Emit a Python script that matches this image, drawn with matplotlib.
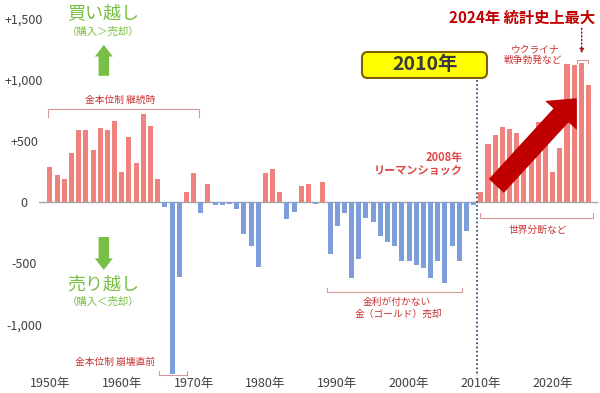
import matplotlib
matplotlib.use('Agg')
from matplotlib import pyplot as plt
from matplotlib.patches import FancyBboxPatch

plt.rcParams['font.family'] = ['Noto Sans CJK JP', 'DejaVu Sans']

# 各国中央銀行の金 純購入量（トン）1950年〜2025年
years = list(range(1950, 2026))
net_tonnes = [
    284, 221, 186, 399, 584, 584, 426, 601, 584, 664,        # 1950-1959
    248, 527, 317, 719, 623, 186, -44, -1402, -615, 80,      # 1960-1969
    235, -93, 145, -27, -27, -19, -55, -260, -360, -530,     # 1970-1979
    235, 268, 80, -139, -85, 134, 145, -19, 166, -425,       # 1980-1989
    -195, -93, -617, -467, -134, -167, -276, -325, -358, -481,  # 1990-1999
    -481, -516, -535, -617, -481, -658, -358, -484, -235, -25,  # 2000-2009
    80, 473, 549, 609, 598, 563, 395, 379, 655, 605,         # 2010-2019
    248, 443, 1123, 1115, 1137, 953,                         # 2020-2025
]
ytick_vals = [1500, 1000, 500, 0, -500, -1000]
ytick_labels = ['+1,500', '+1,000', '+500', '0', '-500', '-1,000']
xtick_years = list(range(1950, 2021, 10))

pos_color = '#f0827e'
neg_color = '#7e9ddb'
red_txt = '#c83232'
bracket_color = '#d49a9a'
green = '#78bf45'

fig = plt.figure(figsize=(6, 3.93), dpi=100)
ax = fig.add_axes([0.065, 0.0433, 0.9317, 0.9313])

colors = [pos_color if v > 0 else neg_color for v in net_tonnes]
ax.bar(years, net_tonnes, width=0.7, color=colors, zorder=2)
ax.axhline(0, color='#a6a6a6', lw=1, zorder=1)

ax.set_xlim(1948.47, 2026.32)
ax.set_ylim(-1420, 1567)
for s in ax.spines.values():
    s.set_visible(False)

ax.set_yticks(ytick_vals, ytick_labels)
ax.set_xticks(xtick_years, ['%d年' % y for y in xtick_years])
ax.tick_params(axis='y', length=0, pad=10.8, labelsize=9, labelcolor='#404040')
for lab in ax.get_yticklabels():
    lab.set_horizontalalignment('center')
ax.tick_params(axis='x', length=0, pad=1, labelsize=9, labelcolor='#404040')


def bracket(x0, x1, y, tick_y):
    ax.plot([x0, x0, x1, x1], [tick_y, y, y, tick_y], color=bracket_color,
            lw=0.8, clip_on=False, zorder=3)


# 買い越し / 売り越し
ax.text(1957.35, 1545, '買い越し', ha='center', va='center', fontsize=13, color=green)
ax.text(1957.35, 1390, '（購入＞売却）', ha='center', va='center', fontsize=7.5, color=green)
ax.text(1957.35, -672, '売り越し', ha='center', va='center', fontsize=13, color=green)
ax.text(1957.35, -814, '（購入＜売却）', ha='center', va='center', fontsize=7.5, color=green)
green_arrow = dict(arrowstyle='simple,head_width=1.7,head_length=1.1,tail_width=1.0',
                   mutation_scale=7.6, fc=green, ec='none', shrinkA=0, shrinkB=0)
ax.annotate('', xy=(1957.5, 1282), xytext=(1957.5, 1030), arrowprops=green_arrow)
ax.annotate('', xy=(1957.5, -555), xytext=(1957.5, -286), arrowprops=green_arrow)

# 括弧と注記
bracket(1949.7, 1970.75, 759, 694)
ax.text(1959.75, 833, '金本位制 継続時', ha='center', va='center', fontsize=7, color=red_txt)
bracket(1965.2, 1969.1, -1412, -1380)
ax.text(1959.05, -1306, '金本位制 崩壊直前', ha='center', va='center', fontsize=7, color=red_txt)
bracket(1988.6, 2007.4, -735, -702)
ax.text(1998.3, -819, '金利が付かない', ha='center', va='center', fontsize=7, color=red_txt)
ax.text(1998.5, -914, '金（ゴールド）売却', ha='center', va='center', fontsize=7, color=red_txt)
bracket(2009.9, 2025.6, -131, -90)
ax.text(2017.9, -229, '世界分断など', ha='center', va='center', fontsize=7, color=red_txt)
bracket(2023.35, 2024.97, 1159, 1135)
ax.text(2017.5, 1247, 'ウクライナ', ha='center', va='center', fontsize=7, color=red_txt)
ax.text(2017.3, 1159, '戦争勃発など', ha='center', va='center', fontsize=7, color=red_txt)

ax.text(2015.7, 1500, '2024年 統計史上最大', ha='center', va='center', fontsize=11,
        fontweight='bold', color='#c00000')
ax.annotate('', xy=(2024.05, 1214), xytext=(2024.05, 1418),
            arrowprops=dict(arrowstyle='-|>', ls=':', color='#c00000', lw=1,
                            mutation_scale=6, shrinkA=0, shrinkB=0))

ax.text(2007.5, 367, '2008年', ha='right', va='center', fontsize=8,
        fontweight='bold', color='#e04646')
ax.text(2007.5, 261, 'リーマンショック', ha='right', va='center', fontsize=8,
        fontweight='bold', color='#e04646')

# 2010年 の区切り
ax.plot([2009.47, 2009.47], [996, -1420], ls=(0, (1, 1.5)), color='#1f3864',
        lw=1.2, clip_on=False, zorder=3)
box = FancyBboxPatch((1993.45, 1012), 17.41, 212, boxstyle='round,pad=0,rounding_size=0.8',
                     mutation_aspect=58.6, fc='#ffff00', ec='#7f6000', lw=1.5, zorder=6)
ax.add_patch(box)
ax.text(2002.16, 1118, '2010年', ha='center', va='center', fontsize=14,
        fontweight='bold', color='#3a3a3a', zorder=7)

# 上昇トレンドの矢印
ax.annotate('', xy=(2023.36, 847), xytext=(2012.16, 131),
            arrowprops=dict(arrowstyle='simple,head_width=2.2,head_length=1.2,tail_width=1.05',
                            mutation_scale=14, fc='#c00000', ec='none',
                            shrinkA=0, shrinkB=0), zorder=5)

fig.savefig('out.png', dpi=100)
